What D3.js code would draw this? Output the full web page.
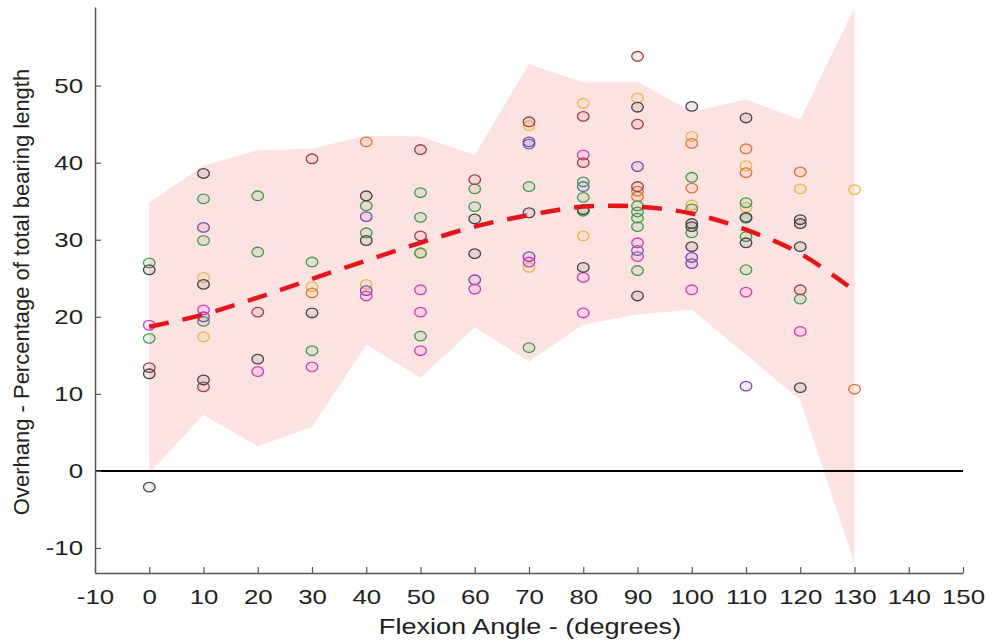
<!DOCTYPE html>
<html>
<head>
<meta charset="utf-8">
<script src="https://cdn.jsdelivr.net/npm/d3@7"></script>
<style>
  html, body { margin: 0; padding: 0; background: #fff; }
  svg { display: block; font-family: "Liberation Sans", Arial, sans-serif; }
</style>
</head>
<body>
<svg id="chart" width="992" height="644"></svg>
<script>
// ---------- DATA ----------
const angles = [0, 10, 20, 30, 40, 50, 60, 70, 80, 90, 100, 110, 120, 130];
const bandUpper = [34.8, 39.6, 41.6, 41.8, 43.5, 43.4, 41.0, 52.8, 50.4, 50.5, 46.6, 48.2, 45.6, 60.1];
const bandLower = [-0.3, 7.3, 3.2, 5.7, 16.4, 12.1, 18.6, 14.2, 19.0, 20.3, 20.9, 15.1, 9.2, -12.0];
const fitValues = [18.7, 20.3, 22.5, 24.9, 27.3, 29.6, 31.7, 33.2, 34.3, 34.3, 33.4, 31.3, 28.2, 23.4];

const xTicks = [-10, 0, 10, 20, 30, 40, 50, 60, 70, 80, 90, 100, 110, 120, 130, 140, 150];
const yTicks = [-10, 0, 10, 20, 30, 40, 50];

// scatter series: [angle, value]
const seriesDark = [[0,26.1],[0,12.6],[0,-2.1],[10,38.6],[10,24.2],[10,11.8],[20,14.5],[30,20.5],
  [40,35.7],[40,29.9],[60,32.7],[60,28.2],[70,33.5],[80,26.4],[80,33.9],[90,47.2],[90,22.7],
  [100,47.3],[100,32.1],[100,31.7],[100,29.1],[110,45.8],[110,29.6],[110,32.9],
  [120,32.6],[120,32.1],[120,29.1],[120,10.8]];
const seriesGreen = [[0,27.0],[0,17.2],[10,35.3],[10,29.9],[10,19.4],[20,35.7],[20,28.4],[30,27.1],[30,15.6],
  [40,34.4],[40,30.9],[50,36.1],[50,32.9],[50,28.3],[50,17.5],[60,36.6],[60,34.3],[70,36.9],[70,16.0],
  [80,37.5],[80,35.5],[80,33.7],[90,34.4],[90,33.6],[90,32.8],[90,31.7],[90,26.0],
  [100,38.1],[100,34.0],[100,30.9],[110,34.8],[110,32.8],[110,30.4],[110,26.1],[120,22.3]];
const seriesMagenta = [[0,18.9],[10,20.9],[20,12.9],[30,13.5],[40,22.7],[50,23.5],[50,20.6],[50,15.6],
  [60,23.6],[70,27.1],[80,41.0],[80,25.1],[80,20.5],[90,29.6],[90,27.8],[100,23.5],[110,23.2],[120,18.1]];
const seriesPurple = [[10,31.6],[10,20.0],[40,33.0],[40,23.4],[60,24.8],[70,42.7],[70,27.8],[90,39.5],
  [100,27.7],[100,26.9],[110,11.0]];
const seriesBlue = [[70,42.4],[80,36.9],[90,28.6]];
const seriesOrange = [[30,23.1],[40,42.7],[90,36.3],[90,35.6],[100,42.5],[100,36.7],[110,41.8],[110,38.7],
  [120,38.8],[130,10.6]];
const seriesYellow = [[10,25.1],[10,17.4],[30,23.9],[40,24.2],[50,28.2],[70,44.8],[70,26.4],[80,47.7],[80,30.5],
  [90,48.4],[100,43.4],[100,34.5],[110,39.6],[110,34.2],[120,36.6],[130,36.5]];
const seriesBrown = [[0,13.4],[10,10.9],[20,20.6],[30,40.5],[50,41.7],[50,30.5],[60,37.8],[70,45.3],
  [80,46.0],[80,40.0],[90,53.8],[90,45.0],[90,36.9],[120,23.5]];

const seriesList = [
  { data: seriesYellow, color: "#e9b84a" },
  { data: seriesOrange, color: "#d8743a" },
  { data: seriesGreen, color: "#3f9e4a" },
  { data: seriesBlue, color: "#4f74a8" },
  { data: seriesPurple, color: "#7d45b5" },
  { data: seriesMagenta, color: "#cc3fb8" },
  { data: seriesBrown, color: "#a0403a" },
  { data: seriesDark, color: "#444444" }
];

// ---------- CHART ----------
const svg = d3.select("#chart");
const x = d3.scaleLinear().domain([-10, 150]).range([95, 963]);
const y = d3.scaleLinear().domain([-13.25, 60.2]).range([573, 7]);
const stretch = 1.23;

// band
const bandData = angles.map((a, i) => ({ a, lo: bandLower[i], hi: bandUpper[i] }));
svg.append("path")
  .datum(bandData)
  .attr("fill", "#fde2e2")
  .attr("d", d3.area().x(d => x(d.a)).y0(d => y(d.lo)).y1(d => y(d.hi)));

// zero line
svg.append("line")
  .attr("x1", x(-10)).attr("x2", x(150))
  .attr("y1", y(0)).attr("y2", y(0))
  .attr("stroke", "#000").attr("stroke-width", 2);

// points
seriesList.forEach(s => {
  svg.append("g").selectAll("ellipse")
    .data(s.data)
    .join("ellipse")
    .attr("cx", d => x(d[0]))
    .attr("cy", d => y(d[1]))
    .attr("rx", 5.8).attr("ry", 4.8)
    .attr("fill", s.color).attr("fill-opacity", 0.1)
    .attr("stroke", s.color).attr("stroke-width", 1.3);
});

// fit line
const fitData = angles.map((a, i) => [a, fitValues[i]]);
svg.append("path")
  .datum(fitData)
  .attr("fill", "none")
  .attr("stroke", "#e3161c")
  .attr("stroke-width", 4.5)
  .attr("stroke-dasharray", "20,14")
  .attr("d", d3.line().x(d => x(d[0])).y(d => y(d[1])).curve(d3.curveCatmullRom));

// axes
const xAxis = svg.append("g")
  .attr("transform", `translate(0,${y(-13.25)})`)
  .call(d3.axisBottom(x).tickValues(xTicks).tickFormat(d => String(d))
    .tickSizeInner(-6).tickSizeOuter(0).tickPadding(16));
const yAxis = svg.append("g")
  .attr("transform", `translate(${x(-10)},0)`)
  .call(d3.axisLeft(y).tickValues(yTicks).tickFormat(d => String(d))
    .tickSizeInner(-6).tickSizeOuter(0).tickPadding(12));

[xAxis, yAxis].forEach(g => {
  g.select(".domain").attr("stroke", "#555").attr("stroke-width", 1.5);
  g.selectAll(".tick line").attr("stroke", "#555").attr("stroke-width", 1.2);
  g.selectAll(".tick text").attr("fill", "#222").style("font-size", "21px")
    .style("font-family", "'Liberation Sans', Arial, sans-serif")
    .attr("transform", `scale(${stretch},1)`);
});
yAxis.selectAll(".tick text").attr("x", -12 / stretch);

// labels
svg.append("text")
  .attr("transform", `translate(530,634) scale(${stretch},1)`)
  .attr("text-anchor", "middle")
  .attr("fill", "#222")
  .style("font-size", "22px")
  .text("Flexion Angle - (degrees)");

svg.append("text")
  .attr("transform", "translate(29,292) rotate(-90)")
  .attr("text-anchor", "middle")
  .attr("fill", "#222")
  .style("font-size", "22px")
  .text("Overhang - Percentage of total bearing length");
</script>
</body>
</html>
